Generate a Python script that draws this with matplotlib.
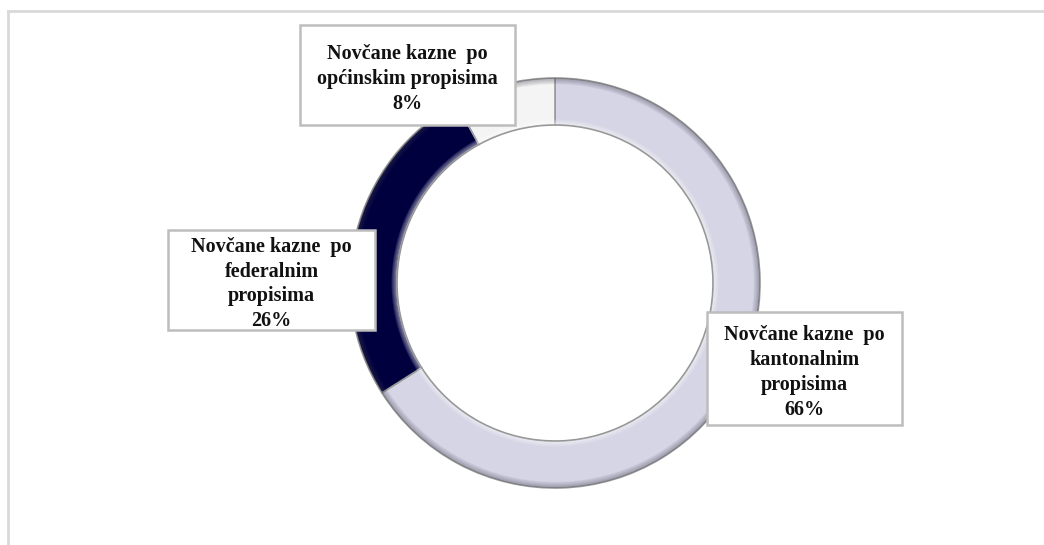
import matplotlib.pyplot as plt
from matplotlib.patches import Wedge, Rectangle

# data
categories = ["Novčane kazne  po\nkantonalnim\npropisima",
              "Novčane kazne  po\nfederalnim\npropisima",
              "Novčane kazne  po\nopćinskim propisima"]
shares = [66, 26, 8]
colors = ["#d5d5e5", "#00003f", "#f4f4f4"]

fig = plt.figure(figsize=(10.44, 5.45), dpi=100)
ax = fig.add_axes([0, 0, 1, 1])

cx, cy = 555, 262  # centre of the ring in pixel units
r_out, width = 205, 47

ax.pie(shares, radius=r_out, center=(cx, cy), startangle=90, counterclock=False,
       colors=colors, frame=True,
       wedgeprops=dict(width=width, edgecolor="#9a9a9a", linewidth=1.2))

# fake bevel: dark towards the outer rim, light highlight on the inner rim
for i in range(6):
    ax.add_patch(Wedge((cx, cy), r_out - i, 0, 360, width=1.2,
                       facecolor="#404050", alpha=0.35 - i * 0.055, lw=0))
for i in range(5):
    ax.add_patch(Wedge((cx, cy), r_out - width + 1.5 + i, 0, 360, width=1.2,
                       facecolor="white", alpha=0.45 - i * 0.08, lw=0))
ax.add_patch(Wedge((cx, cy), r_out - width + 0.8, 0, 360, width=1.0,
                   facecolor="#8a8a8a", alpha=0.55, lw=0))

# label boxes (x0, y0, x1, y1) in pixel units
boxes = [(707, 120, 902, 233), (168, 215, 375, 315), (300, 420, 515, 520)]
for (x0, y0, x1, y1), name, val in zip(boxes, categories, shares):
    ax.add_patch(Rectangle((x0, y0), x1 - x0, y1 - y0, facecolor="white",
                           edgecolor="#bdbdbd", linewidth=1.8, zorder=5))
    ax.text((x0 + x1) / 2, (y0 + y1) / 2 - 4, f"{name}\n{val}%", ha="center",
            va="center", family="Liberation Serif", fontweight="bold",
            fontsize=14.5, linespacing=1.32, color="#111111", zorder=6)

# chart area border (only top and left visible)
ax.plot([8, 1044], [534, 534], color="#d9d9d9", lw=2)
ax.plot([8, 8], [0, 534], color="#d9d9d9", lw=2)

ax.set_xlim(0, 1044)
ax.set_ylim(0, 545)
ax.set_aspect("auto")
ax.set_axis_off()

fig.savefig("out.png", dpi=100, facecolor="white")
